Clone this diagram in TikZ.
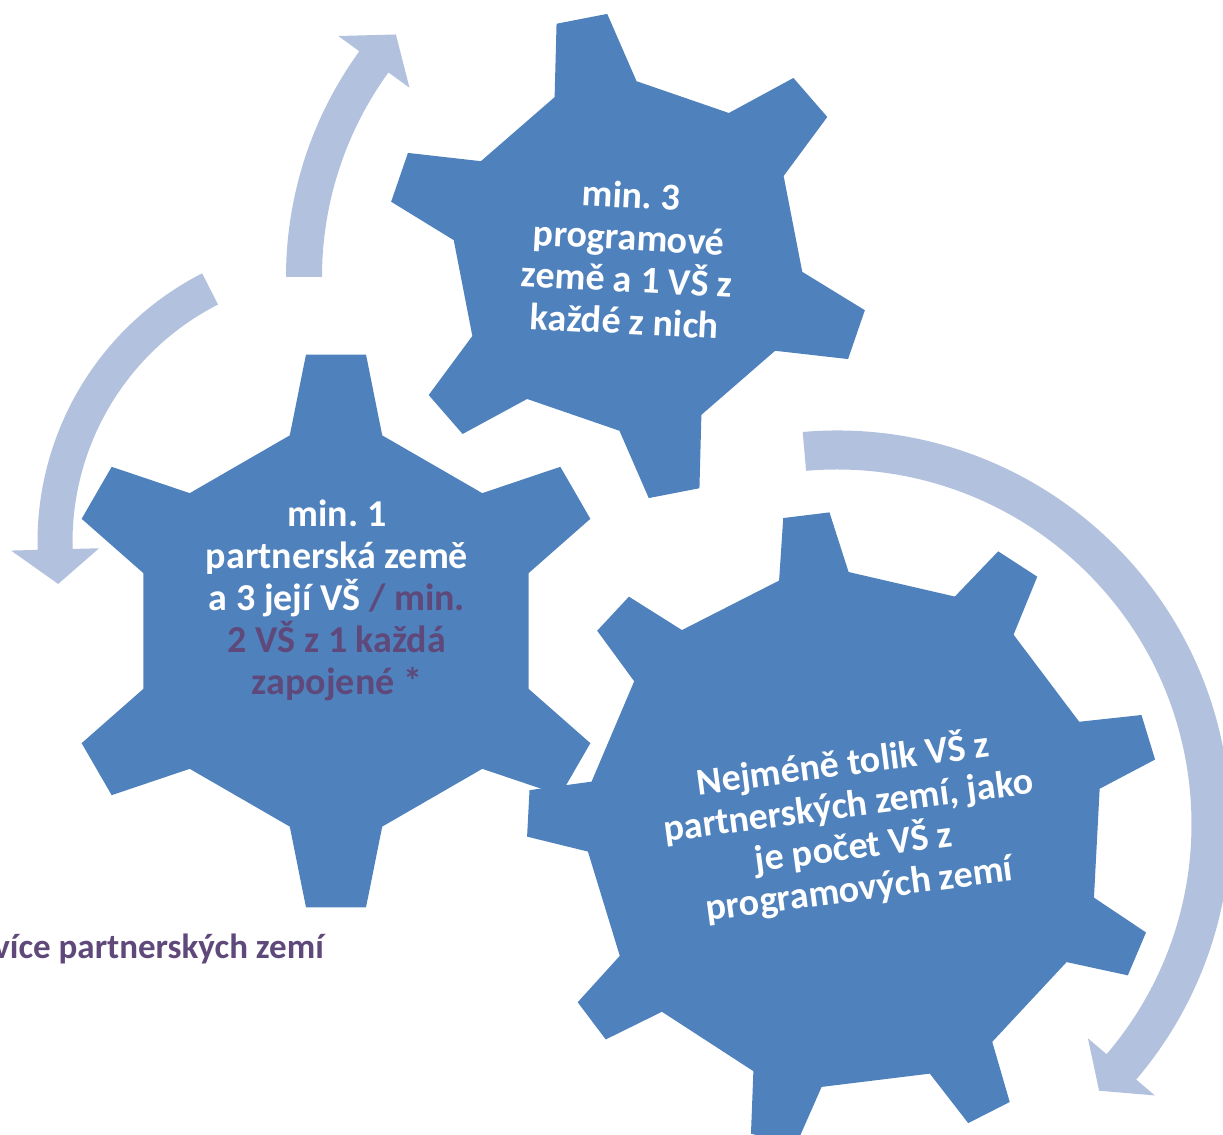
\documentclass[tikz,border=0pt]{standalone}
\usepackage{fontspec}
\setmainfont{Carlito}
\frenchspacing
\definecolor{c1}{RGB}{79,129,189}
\definecolor{c2}{RGB}{178,193,221}
\definecolor{c3}{RGB}{95,73,122}
\tikzstyle{gear chart}=[
    x=0.5pt, y=0.5pt,
    gear body/.style={fill=c1},
    turn body/.style={fill=c2},
    gear text/.style={font={\fontsize{19}{21}\selectfont\bfseries},text=white,align=center},
    side note/.style={font={\fontsize{17.5}{21}\selectfont\bfseries},text=c3},
]
\newcommand{\gear}[7][]{
    \begin{scope}[#1]
    \path[gear body] ({#3-#7}:#5)
        \foreach \k [evaluate=\k as \a using #3+(\k-1)*360/#2] in {1,...,#2}
            {
                -- ({\a-#7}:#5) -- ({\a-#6}:#4) -- ({\a+#6}:#4) -- ({\a+#7}:#5)
            }
        -- cycle;
    \end{scope}
}
\newcommand{\turn}[7][]{
    \begin{scope}[#1]
    \path[turn body] ({#4}:{#2+#3})
        arc[start angle=#4, end angle=#5, radius=#2+#3]
        -- ({#5}:{#2+#6}) -- ({#5+#7}:#2) -- ({#5}:{#2-#6})
        -- ({#5}:{#2-#3})
        arc[start angle=#5, end angle=#4, radius=#2-#3]
        -- cycle;
    \end{scope}
}

\begin{document}
\begin{tikzpicture}[gear chart]
    \useasboundingbox (0,0) rectangle (1223,1135);
    \coordinate (partner hub) at (336,504);
    \coordinate (program hub) at (628,879);
    \coordinate (balance hub) at (845,305);

    \turn[shift={(670,858)}]{366}{18}{180}{144}{44}{-5.5}
    \turn[shift={(339,593)}]{284}{17.5}{117}{181.5}{44}{7}
    \turn[shift={(837,311)}]{374}{19.5}{95}{-40.5}{44}{-5}

    \gear[shift={(partner hub)}]{6}{30}{278}{201}{6.2}{13.3}
    \gear[shift={(program hub)}]{6}{41}{243}{175}{6.1}{13.8}
    \gear[shift={(balance hub)}]{9}{17}{318}{258}{4.2}{7.8}

    \node[gear text] (partner) at (337,535)
        {min. 1\\partnerská země\\a 3 její VŠ \textcolor{c3}{/ min.}\\\textcolor{c3}{2 VŠ z 1 každá}\\\textcolor{c3}{zapojené *}};
    \node[gear text,rotate=-3] (program) at (628,877)
        {min. 3\\programové\\země a 1 VŠ z\\každé z nich};
    \node[gear text,rotate=7.5] (balance) at (851,309)
        {Nejméně tolik VŠ z\\partnerských zemí, jako\\je počet VŠ z\\programových zemí};
    \node[side note,anchor=base east] (more) at (331,176) {více partnerských zemí};
\end{tikzpicture}
\end{document}
